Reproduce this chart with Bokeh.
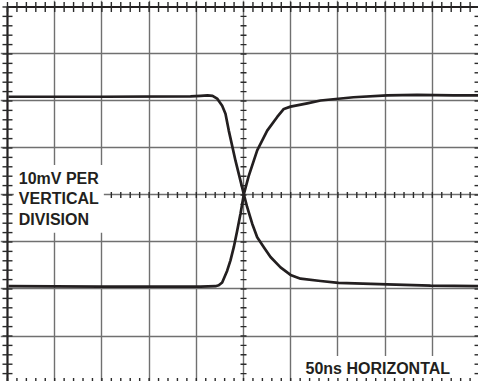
import numpy as np
from bokeh.plotting import figure
from bokeh.models import Range1d, Grid, FixedTicker, Label
from bokeh.embed import file_html
from bokeh.resources import INLINE

# time in ns (50 ns / division), signal in mV (10 mV / division)
falling_t = [-249, -151.5, -56.1, -45.5, -38.1, -32.8, -27.9, -25.4, -22.6, -19.1, -15.6, -8.5,
             0.3, 3.9, 9.2, 14.5, 21.5, 28.6, 39.2, 49.8, 60.4, 81.6, 100.6, 152.2, 198.1, 249]
falling_v = [20.9, 20.9, 21.0, 21.1, 21.2, 21.1, 20.5, 19.8, 19.0, 17.3, 13.7, 7.3,
             0.2, -2.6, -6.1, -9.0, -11.1, -13.2, -15.4, -17.0, -17.8, -18.3, -18.7, -19.0, -19.3, -19.4]

rising_t = [-249, -151.5, -45.5, -29.7, -26.2, -22.6, -17.3, -13.8, -10.3, -6.7, -3.2, 0.3,
            5.3, 10.9, 14.5, 25.1, 35.7, 42.7, 49.8, 67.5, 81.6, 116.5, 152.2, 184, 222.5, 249]
rising_v = [-19.4, -19.5, -19.5, -19.4, -19.2, -18.6, -16.1, -13.9, -11.1, -7.6, -4.0, 0.1,
            3.9, 7.3, 9.5, 13.7, 16.6, 18.3, 18.8, 19.5, 20.1, 20.8, 21.2, 21.3, 21.2, 21.2]

x_grid_ticks = [-200, -150, -100, -50, 0, 50, 100, 150, 200]
y_grid_ticks = [-30, -20, -10, 0, 10, 20, 30]
x_lim = (-250, 250)
y_lim = (-40, 40)
x_minor_step = 10
y_minor_step = 2

vert_label = "10mV PER\nVERTICAL\nDIVISION"
horiz_label = "50ns HORIZONTAL"

minor_x = np.arange(x_lim[0], x_lim[1] + 0.1, x_minor_step)
minor_y = np.arange(y_lim[0], y_lim[1] + 0.1, y_minor_step)

p = figure(width=478, height=381,
           x_range=Range1d(-257.4, 248.9), y_range=Range1d(-39.68, 41.38),
           x_axis_type=None, y_axis_type=None,
           toolbar_location=None, output_backend="svg",
           min_border=0, outline_line_color=None,
           background_fill_color="white", border_fill_color="white")

grid_col = "#707070"
p.add_layout(Grid(dimension=0, ticker=FixedTicker(ticks=x_grid_ticks),
                  grid_line_color=grid_col, grid_line_width=1.4))
p.add_layout(Grid(dimension=1, ticker=FixedTicker(ticks=y_grid_ticks),
                  grid_line_color=grid_col, grid_line_width=1.4))

ink = "#231f20"
# graticule border
p.line(x=[x_lim[0], x_lim[0], x_lim[1], x_lim[1], x_lim[0]],
       y=[y_lim[0], y_lim[1], y_lim[1], y_lim[0], y_lim[0]],
       line_color=ink, line_width=2.2)

tick_col = "#2a2a2a"
# border ticks (drawn above the label boxes)
p.scatter(x=np.full(len(minor_y), x_lim[0]), y=minor_y, marker="dash", size=10,
          line_color=tick_col, line_width=1.4, level="overlay")
p.scatter(x=np.full(len(minor_y), x_lim[1]), y=minor_y, marker="dash", size=10,
          line_color=tick_col, line_width=1.4, level="overlay")
p.scatter(x=minor_x, y=np.full(len(minor_x), y_lim[1]), marker="dash", size=10, angle=np.pi / 2,
          line_color=tick_col, line_width=1.4, level="overlay")
p.scatter(x=minor_x, y=np.full(len(minor_x), y_lim[0]), marker="dash", size=10, angle=np.pi / 2,
          line_color=tick_col, line_width=1.4, level="overlay")
# centre-axis ticks
p.scatter(x=np.zeros(len(minor_y)), y=minor_y, marker="dash", size=6,
          line_color=tick_col, line_width=1.4)
p.scatter(x=minor_x, y=np.zeros(len(minor_x)), marker="dash", size=6, angle=np.pi / 2,
          line_color=tick_col, line_width=1.4)

p.line(falling_t, falling_v, line_color=ink, line_width=2.7, line_join="round")
p.line(rising_t, rising_v, line_color=ink, line_width=2.7, line_join="round")

p.add_layout(Label(x=-243.3, y=6.4, text=vert_label,
                   text_font="Liberation Sans", text_font_style="bold", text_font_size="16px",
                   text_baseline="top", text_line_height=1.2, text_color=ink,
                   background_fill_color="white", background_fill_alpha=1.0, padding=5))
p.add_layout(Label(x=61.4, y=-36.9, text=horiz_label,
                   text_font="Liberation Sans", text_font_style="bold", text_font_size="16px",
                   text_baseline="alphabetic", text_color=ink,
                   background_fill_color="white", background_fill_alpha=1.0, padding=4))

open("out.html", "w").write(file_html(p, INLINE))
